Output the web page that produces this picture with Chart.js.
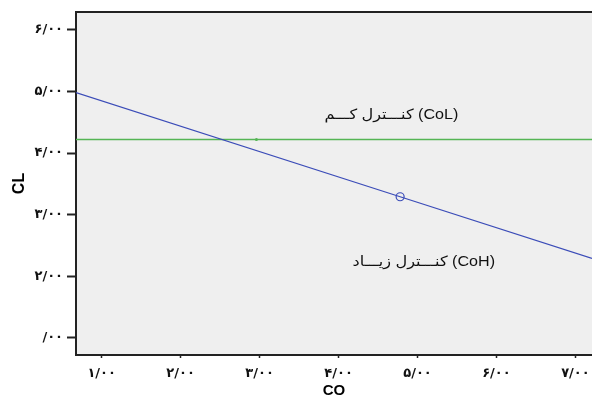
<!DOCTYPE html>
<html>
<head>
<title>CO - CL</title>
<script src="https://cdn.jsdelivr.net/npm/chart.js@4.4.0/dist/chart.umd.min.js"></script>
<style>
body { margin:0; background:#fff; }
</style>
</head>
<body>
<canvas id="myChart" width="592" height="400"></canvas>
<script>
// tick labels (persian digits)
var xTickLabels = ['۱/۰۰', '۲/۰۰', '۳/۰۰', '۴/۰۰', '۵/۰۰', '۶/۰۰', '۷/۰۰'];
var yTickLabels = ['/۰۰', '۲/۰۰', '۳/۰۰', '۴/۰۰', '۵/۰۰', '۶/۰۰'];

// CoH line (blue), middle point is the circle marker
var highX = [0.675, 4.78, 7.21];
var highY = [4.98, 3.29, 2.29];
var highRadius = [0, 4, 0];

// CoL line (green), middle point is the small dot
var lowX = [0.675, 2.96, 7.21];
var lowY = [4.22, 4.22, 4.22];
var lowRadius = [0, 1.5, 0];

// labels inside the plot
var noteText = ['کنـــترل کـــم (CoL)', 'کنـــترل زیـــاد (CoH)'];
var noteX = [4.67, 5.08];
var noteY = [4.62, 2.23];

function toPoints(xs, ys) {
    var out = [];
    for (var i = 0; i < xs.length; i++) out.push({ x: xs[i], y: ys[i] });
    return out;
}

var plotBg = {
    id: 'plotBg',
    beforeDraw: function (chart) {
        var a = chart.chartArea, c = chart.ctx;
        c.save();
        c.fillStyle = '#efefef';
        c.fillRect(a.left, a.top, a.right - a.left, a.bottom - a.top);
        c.strokeStyle = '#222';
        c.lineWidth = 2;
        c.beginPath();
        c.moveTo(a.left, a.top);
        c.lineTo(a.right, a.top);
        c.stroke();
        c.restore();
    },
    afterDatasetsDraw: function (chart) {
        var c = chart.ctx, xs = chart.scales.x, ys = chart.scales.y;
        c.save();
        c.font = '14px "Liberation Sans", "DejaVu Sans", sans-serif';
        c.fillStyle = '#111';
        c.textAlign = 'center';
        c.textBaseline = 'middle';
        c.direction = 'ltr';
        for (var i = 0; i < noteText.length; i++) {
            c.save();
            c.translate(xs.getPixelForValue(noteX[i]), ys.getPixelForValue(noteY[i]));
            c.scale(1.15, 1);
            c.fillText(noteText[i], 0, 0);
            c.restore();
        }
        c.restore();
    }
};

var ctx = document.getElementById('myChart').getContext('2d');
var chart = new Chart(ctx, {
    type: 'scatter',
    data: {
        datasets: [
            {
                data: toPoints(highX, highY), showLine: true, borderColor: '#3b4cb8', borderWidth: 1.2,
                pointRadius: highRadius, pointBorderColor: '#3b4cb8', pointBackgroundColor: 'rgba(0,0,0,0)', pointBorderWidth: 1.2
            },
            {
                data: toPoints(lowX, lowY), showLine: true, borderColor: '#55b555', borderWidth: 1.5,
                pointRadius: lowRadius, pointBorderWidth: 0, pointBackgroundColor: '#55b555'
            }
        ]
    },
    options: {
        responsive: false,
        animation: false,
        layout: { padding: { top: 12, right: 0, left: 0, bottom: 0 } },
        plugins: { legend: { display: false }, tooltip: { enabled: false } },
        scales: {
            x: {
                type: 'linear',
                min: 0.675,
                max: 7.21,
                afterFit: function (s) { s.height = 45; s.paddingLeft = 0; s.paddingRight = 0; },
                afterBuildTicks: function (s) { s.ticks = xTickLabels.map(function (t, i) { return { value: i + 1 }; }); },
                ticks: {
                    color: '#111',
                    font: { family: 'DejaVu Sans', size: 13, weight: 'bold' },
                    padding: 8,
                    maxRotation: 0,
                    callback: function (v) { return xTickLabels[v - 1]; }
                },
                grid: { drawOnChartArea: false, tickLength: 3, tickWidth: 1.5, tickColor: '#222' },
                border: { color: '#222', width: 2 },
                title: { display: true, text: 'CO', color: '#000', font: { family: 'Liberation Sans', size: 15, weight: 'bold' }, padding: { top: 0, bottom: 0 } }
            },
            y: {
                type: 'linear',
                min: 0.72,
                max: 6.29,
                afterFit: function (s) { s.width = 76; s.paddingTop = 0; s.paddingBottom = 0; },
                afterBuildTicks: function (s) { s.ticks = yTickLabels.map(function (t, i) { return { value: i + 1 }; }); },
                ticks: {
                    color: '#111',
                    font: { family: 'DejaVu Sans', size: 13, weight: 'bold' },
                    padding: 4,
                    callback: function (v) { return yTickLabels[v - 1]; }
                },
                grid: { drawOnChartArea: false, tickLength: 9, tickWidth: 2, tickColor: '#222' },
                border: { color: '#222', width: 2 },
                title: { display: true, text: 'CL', color: '#000', font: { family: 'Liberation Sans', size: 16, weight: 'bold' }, padding: { top: 10, bottom: 4 } }
            }
        }
    },
    plugins: [plotBg]
});
</script>
</body>
</html>
